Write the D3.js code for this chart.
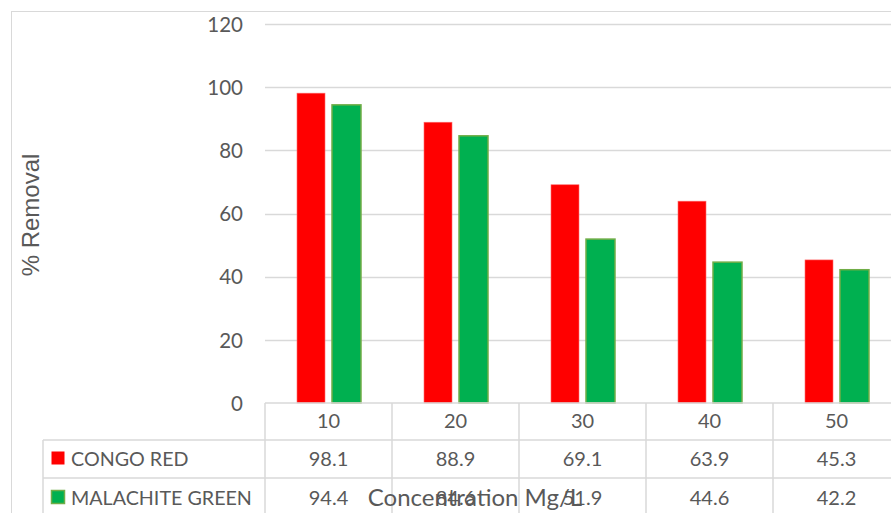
<!DOCTYPE html>
<html>
<head>
<meta charset="utf-8">
<script src="https://cdn.jsdelivr.net/npm/d3@7/dist/d3.min.js"></script>
<style>
  html, body { margin: 0; padding: 0; background: #fff; }
  svg { display: block; }
  text { font-family: Lato, "Open Sans", sans-serif; fill: #595959; }
</style>
</head>
<body>
<svg id="chart" width="891" height="513"></svg>
<script>
// Removal efficiency of two dyes at increasing initial concentration
const categories = ["10", "20", "30", "40", "50"];
const seriesNames = ["CONGO RED", "MALACHITE GREEN"];
const congoRed = [98.1, 88.9, 69.1, 63.9, 45.3];
const malachiteGreen = [94.4, 84.6, 51.9, 44.6, 42.2];
const yTicks = [0, 20, 40, 60, 80, 100, 120];

const fills = ["#ff0000", "#00b050"];
const strokes = ["#ff6b6b", "#70ad47"];
const seriesValues = [congoRed, malachiteGreen];

const svg = d3.select("#chart");
const W = 891, H = 513;

// outer chart frame
svg.append("rect")
  .attr("x", 11.5).attr("y", 11.5)
  .attr("width", W + 20).attr("height", H + 20)
  .attr("fill", "none").attr("stroke", "#d9d9d9").attr("stroke-width", 1);

const plot = { left: 265, right: 900, top: 24, bottom: 403 };

const x = d3.scaleBand().domain(categories).range([plot.left, plot.right]).paddingInner(0).paddingOuter(0);
const y = d3.scaleLinear().domain([0, 120]).range([plot.bottom, plot.top]);

// horizontal gridlines
svg.append("g").selectAll("line").data(yTicks.filter(d => d > 0)).join("line")
  .attr("x1", plot.left).attr("x2", plot.right)
  .attr("y1", d => Math.round(y(d)) + 0.5).attr("y2", d => Math.round(y(d)) + 0.5)
  .attr("stroke", "#d9d9d9").attr("stroke-width", 1.5);

// y-axis tick labels via d3 axis (line work hidden)
const yAxis = svg.append("g")
  .attr("transform", `translate(${plot.left - 22},0)`)
  .call(d3.axisLeft(y).tickValues(yTicks).tickSize(0).tickPadding(0));
yAxis.select(".domain").remove();
yAxis.selectAll("text")
  .attr("font-size", 20.5).attr("dy", "0.35em")
  .style("font-family", "Lato, 'Open Sans', sans-serif").attr("fill", "#595959");

// bars
const barW = [28, 29];
const gap = 7;
const groupW = barW[0] + gap + barW[1];
const bars = svg.append("g");
seriesValues.forEach((vals, si) => {
  bars.selectAll(null).data(vals).join("rect")
    .attr("x", (d, i) => {
      const c = x(categories[i]) + x.bandwidth() / 2 - groupW / 2 + 0.5;
      return si === 0 ? c : c + barW[0] + gap;
    })
    .attr("y", d => y(d))
    .attr("width", barW[si])
    .attr("height", d => y(0) - y(d))
    .attr("fill", fills[si])
    .attr("stroke", strokes[si])
    .attr("stroke-width", si === 0 ? 0.6 : 1.5);
});

// data table lines
const tbl = svg.append("g").attr("stroke", "#d9d9d9").attr("stroke-width", 1.5);
const rowY = [403, 440, 478, 516];
const tableLeft = 43;
tbl.append("line").attr("x1", plot.left).attr("x2", W).attr("y1", rowY[0]).attr("y2", rowY[0]);
tbl.append("line").attr("x1", tableLeft).attr("x2", W).attr("y1", rowY[1]).attr("y2", rowY[1]);
tbl.append("line").attr("x1", tableLeft).attr("x2", W).attr("y1", rowY[2]).attr("y2", rowY[2]);
tbl.append("line").attr("x1", tableLeft).attr("x2", tableLeft).attr("y1", rowY[1]).attr("y2", H);
tbl.selectAll(null).data(categories).join("line")
  .attr("x1", d => x(d)).attr("x2", d => x(d))
  .attr("y1", rowY[0]).attr("y2", H);

// category header row
svg.append("g").selectAll("text").data(categories).join("text")
  .attr("x", d => x(d) + x.bandwidth() / 2)
  .attr("y", 428)
  .attr("text-anchor", "middle").attr("font-size", 20)
  .text(d => d);

// value rows
const rowBase = [466, 505];
seriesValues.forEach((vals, si) => {
  svg.append("g").selectAll("text").data(vals).join("text")
    .attr("x", (d, i) => x(categories[i]) + x.bandwidth() / 2)
    .attr("y", rowBase[si])
    .attr("text-anchor", "middle").attr("font-size", 20)
    .text(d => d3.format(".1f")(d));

  // legend key + series name
  svg.append("rect")
    .attr("x", 51.5).attr("y", rowBase[si] - 14.5)
    .attr("width", 13).attr("height", 13)
    .attr("fill", fills[si])
    .attr("stroke", si === 0 ? "none" : strokes[si]).attr("stroke-width", 1.5);
  svg.append("text")
    .attr("x", 71).attr("y", rowBase[si])
    .attr("font-size", 19.7)
    .text(seriesNames[si]);
});

// axis titles
svg.append("text")
  .attr("x", 475).attr("y", 506)
  .attr("text-anchor", "middle").attr("font-size", 24)
  .text("Concentration Mg/L");

svg.append("text")
  .attr("transform", "translate(39,215) rotate(-90)")
  .attr("text-anchor", "middle").attr("font-size", 24)
  .style("font-family", "'Liberation Sans', Arial, sans-serif")
  .text("% Removal");
</script>
</body>
</html>
